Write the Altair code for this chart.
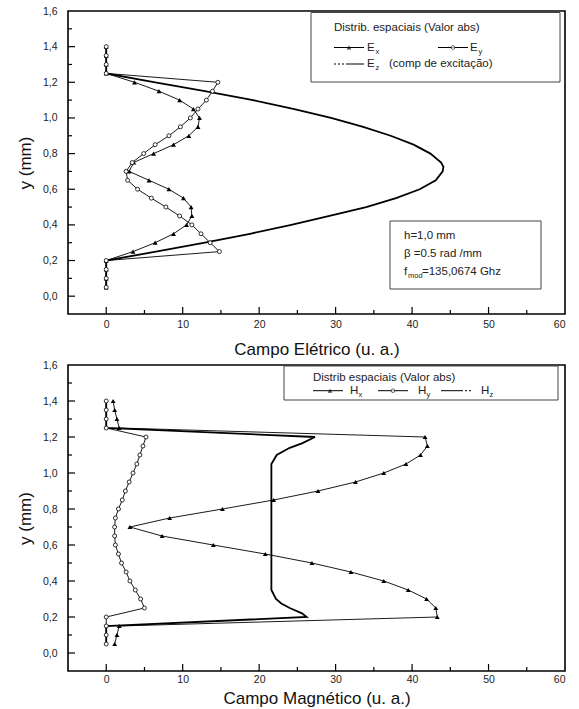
import altair as alt
import pandas as pd

FONT = "Liberation Sans"

# ---------------- data ----------------
Y_GRID = [0.05, 0.10, 0.15, 0.20, 0.25, 0.30, 0.35, 0.40, 0.45, 0.50,
          0.55, 0.60, 0.65, 0.70, 0.75, 0.80, 0.85, 0.90, 0.95, 1.00,
          1.05, 1.10, 1.15, 1.20, 1.25, 1.30, 1.35, 1.40]

EX = [0, 0, 0, 0, 3.5, 6.4, 8.8, 10.5, 11.2, 11.1, 10.1, 8.2, 5.6, 3.0,
      3.6, 6.2, 8.8, 10.8, 12.0, 12.2, 11.4, 9.6, 6.9, 3.7, 0, 0, 0, 0]
EY = [0, 0, 0, 0, 14.8, 13.6, 12.4, 11.2, 9.6, 7.8, 5.9, 4.1, 2.8, 2.6,
      3.4, 4.9, 6.4, 8.2, 9.7, 11.0, 12.0, 13.1, 13.9, 14.6, 0, 0, 0, 0]
EZ_Y = [0.05, 0.10, 0.15, 0.20, 0.25, 0.30, 0.35, 0.40, 0.45, 0.50, 0.55,
        0.60, 0.65, 0.70, 0.725, 0.75, 0.80, 0.85, 0.90, 0.95, 1.00, 1.05,
        1.10, 1.15, 1.20, 1.25, 1.30, 1.35, 1.40]
EZ = [0, 0, 0, 0, 6.5, 12.9, 18.8, 24.2, 29.2, 34.0, 37.9, 41.0, 43.1, 44.0,
      44.1, 43.8, 42.4, 40.2, 37.2, 33.6, 29.4, 24.6, 19.2, 12.9, 6.4, 0, 0, 0, 0]

HX = [1.1, 1.4, 1.7, 43.3, 43.1, 41.9, 39.5, 36.3, 32.0, 26.9, 20.8, 14.0,
      7.3, 3.1, 8.3, 15.2, 21.9, 27.7, 32.6, 36.3, 39.2, 41.1, 42.0, 41.7,
      1.7, 1.4, 1.1, 0.9]
HY = [0, 0, 0, 0, 5.0, 4.5, 3.8, 3.1, 2.6, 2.0, 1.6, 1.2, 1.1, 1.1, 1.2,
      1.6, 2.1, 2.5, 3.0, 3.5, 4.0, 4.4, 4.8, 5.2, 0, 0, 0, 0]
HZ_Y = [0.05, 0.10, 0.15, 0.20, 0.22, 0.25, 0.275, 0.30, 0.35, 0.50, 0.70,
        0.90, 1.05, 1.10, 1.14, 1.165, 1.20, 1.25, 1.30, 1.35, 1.40]
HZ = [0, 0, 0, 26.2, 25.6, 24.0, 22.9, 22.2, 21.6, 21.6, 21.6, 21.6, 21.6,
      22.3, 24.0, 25.6, 27.3, 0, 0, 0, 0]

X_LABELS = [0, 10, 20, 30, 40, 50, 60]
Y_LABELS = [0.0, 0.2, 0.4, 0.6, 0.8, 1.0, 1.2, 1.4, 1.6]
X_TICK_MAJOR = [0, 10, 20, 30, 40, 50]
X_TICK_MINOR = [5, 15, 25, 35, 45, 55]
Y_TICK_MAJOR = [0.0, 0.2, 0.4, 0.6, 0.8, 1.0, 1.2, 1.4]
Y_TICK_MINOR = [0.1, 0.3, 0.5, 0.7, 0.9, 1.1, 1.3, 1.5]

# ---------------- layout / style ----------------
W = 497
H1 = 303
H2 = 306
XDOM = [-5, 60]
YDOM = [-0.1, 1.6]
ONE = alt.Data(values=[{"k": 1}])


def xenc(title, label_pad, title_pad):
    return alt.X("x:Q", scale=alt.Scale(domain=XDOM, nice=False, zero=False),
                 axis=alt.Axis(values=X_LABELS, title=title, labelPadding=label_pad,
                               titlePadding=title_pad, format="d"))


def yenc():
    return alt.Y("y:Q", scale=alt.Scale(domain=YDOM, nice=False, zero=False),
                 axis=alt.Axis(values=Y_LABELS, title="y (mm)", labelPadding=11,
                               titlePadding=8,
                               labelExpr="replace(format(datum.value, '.1f'), '.', ',')"))


def series(xs, ys, xe, width, point=None):
    df = pd.DataFrame({"x": xs, "y": ys, "i": list(range(len(xs)))})
    kw = {"color": "black", "strokeWidth": width}
    if point is not None:
        kw["point"] = point
    return alt.Chart(df).mark_line(**kw).encode(x=xe, y=yenc(), order="i:Q")


TRI = alt.OverlayMarkDef(shape="triangle-up", filled=True, color="black", size=24)
CIR = alt.OverlayMarkDef(shape="circle", filled=True, fill="white", stroke="black",
                         strokeWidth=0.8, size=16)


def ticks(xe, h):
    out = []
    for vals, ln in ((X_TICK_MAJOR, 7), (X_TICK_MINOR, 4)):
        out.append(alt.Chart(pd.DataFrame({"x": vals})).mark_rule(color="black", strokeWidth=1.2)
                   .encode(x=xe, y=alt.value(h), y2=alt.value(h - ln)))
    for vals, ln in ((Y_TICK_MAJOR, 7), (Y_TICK_MINOR, 4)):
        out.append(alt.Chart(pd.DataFrame({"y": vals})).mark_rule(color="black", strokeWidth=1.2)
                   .encode(y=yenc(), x=alt.value(0), x2=alt.value(ln)))
    return out


def txt(x, y, s, size=11.5, color="#222"):
    return alt.Chart(ONE).mark_text(text=s, align="left", baseline="middle", font=FONT,
                                    fontSize=size, color=color).encode(
        x=alt.value(x), y=alt.value(y))


def box(x1, y1, x2, y2):
    return alt.Chart(ONE).mark_rect(fill="white", stroke="#444", strokeWidth=1).encode(
        x=alt.value(x1), x2=alt.value(x2), y=alt.value(y1), y2=alt.value(y2))


def hline(x1, x2, y, w=1, dash=None):
    kw = {"color": "black", "strokeWidth": w}
    if dash:
        kw["strokeDash"] = dash
    return alt.Chart(ONE).mark_rule(**kw).encode(x=alt.value(x1), x2=alt.value(x2), y=alt.value(y))


def sym(x, y, shape):
    if shape == "tri":
        return alt.Chart(ONE).mark_point(shape="triangle-up", filled=True, color="black",
                                         size=22).encode(x=alt.value(x), y=alt.value(y))
    return alt.Chart(ONE).mark_point(shape="circle", filled=True, fill="white", stroke="black",
                                     strokeWidth=0.8, size=14).encode(x=alt.value(x), y=alt.value(y))


def label_sub(x, y, main, sub, size=11.5):
    return [txt(x, y, main, size), txt(x + 8.5, y + 4, sub, 7.5)]


# ---------------- top chart ----------------
xe1 = xenc("Campo Elétrico (u. a.)", 5, 12)
top_layers = [
    series(EZ, EZ_Y, xe1, 1.8),
    series(EX, Y_GRID, xe1, 0.9, TRI),
    series(EY, Y_GRID, xe1, 0.9, CIR),
] + ticks(xe1, H1) + [
    box(243, 1.5, 492, 71),
    txt(266, 16.5, "Distrib. espaciais (Valor abs)"),
    hline(266, 296, 36.5), sym(281, 36.5, "tri"),
    *label_sub(299, 36.5, "E", "x"),
    hline(370, 400, 36.5), sym(385, 36.5, "cir"),
    *label_sub(402, 36.5, "E", "y"),
    hline(266, 278, 53, 1, [2, 2]), hline(278, 296, 53),
    *label_sub(299, 53, "E", "z"),
    txt(321, 53, "(comp  de excitação)"),
    box(322, 210, 473, 278),
    txt(336, 225, "h=1,0 mm"),
    txt(336, 243, "β =0.5 rad /mm"),
    txt(336, 260.5, "f"),
    txt(340, 264.5, "mod", 7.5),
    txt(354, 260.5, "=135,0674 Ghz"),
]
top = alt.layer(*top_layers).properties(width=W, height=H1)

# ---------------- bottom chart ----------------
xe2 = xenc("Campo Magnético (u. a.)", 3, 6)
bot_layers = [
    series(HZ, HZ_Y, xe2, 1.8),
    series(HX, Y_GRID, xe2, 0.9, TRI),
    series(HY, Y_GRID, xe2, 0.9, CIR),
] + ticks(xe2, H2) + [
    box(216, 1, 490, 35),
    txt(245, 12.5, "Distrib  espaciais (Valor abs)"),
    hline(245, 275, 25.7), sym(262, 25.7, "tri"),
    *label_sub(282, 25.7, "H", "x"),
    hline(310, 340, 25.7), sym(325, 25.7, "cir"),
    *label_sub(350, 25.7, "H", "y"),
    hline(373, 393, 25.7), hline(393, 404, 25.7, 1, [2, 2]),
    *label_sub(413, 25.7, "H", "z"),
]
bottom = alt.layer(*bot_layers).properties(width=W, height=H2)

chart = (
    alt.vconcat(top, bottom, spacing=0)
    .properties(padding={"left": 15, "top": 5, "right": 5, "bottom": 0}, background="white")
    .configure_view(stroke="black", strokeWidth=1.6)
    .configure_axis(domain=False, ticks=False, grid=False,
                    labelFont=FONT, labelFontSize=10.5, labelColor="#222",
                    titleFont=FONT, titleFontSize=17, titleFontWeight="normal",
                    titleColor="#111")
)

chart.save("out.html", embed_options={"renderer": "svg", "actions": False})
